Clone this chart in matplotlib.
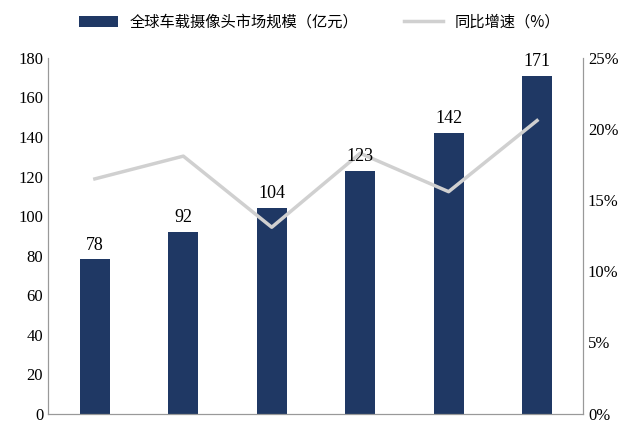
import matplotlib.pyplot as plt
import numpy as np

plt.rcParams['font.family'] = ['Liberation Serif', 'Noto Sans CJK SC']

years = ['1', '2', '3', '4', '5', '6']
market = [78, 92, 104, 123, 142, 171]
growth = [16.5, 18.1, 13.1, 18.3, 15.6, 20.6]

fig = plt.figure(figsize=(6.4, 4.22), dpi=100)
ax = fig.add_axes([0.075, 0.02, 0.836, 0.8426])
x = np.arange(len(years))
bars = ax.bar(x, market, width=0.34, color='#1f3864', label='全球车载摄像头市场规模（亿元）')
ax.set_ylim(0, 180)
ax.set_yticks(range(0, 181, 20))
ax.set_xlim(-0.53, 5.52)
ax.set_xticks([])
ax.tick_params(labelsize=12, length=0)

ax2 = ax.twinx()
ln, = ax2.plot(x, growth, color='#d0d0d0', lw=2.5, label='同比增速（%）')
ax2.set_ylim(0, 25)
ax2.set_yticks(range(0, 26, 5))
ax2.set_yticklabels([f'{v}%' for v in range(0, 26, 5)])
ax2.tick_params(labelsize=12, length=0)
for xi, v in zip(x, market):
    ax2.text(xi, v + 3, str(v), ha='center', va='bottom', fontsize=13,
             transform=ax.transData, zorder=5)

for a in (ax, ax2):
    a.spines['top'].set_visible(False)
    for s in ('left', 'right', 'bottom'):
        a.spines[s].set_color('#999999')

fig.legend(handles=[bars, ln], loc='upper center', bbox_to_anchor=(0.5, 1.0), ncol=2,
           frameon=False, prop={'family': 'Noto Sans CJK SC', 'size': 11},
           columnspacing=3, handlelength=2.5)
fig.savefig('out.png', dpi=100)
